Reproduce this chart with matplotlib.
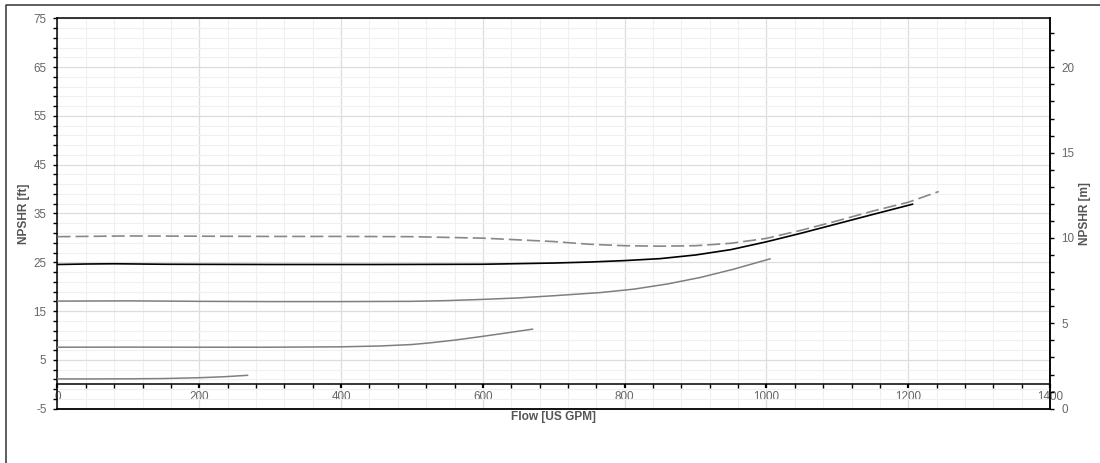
import numpy as np
import matplotlib
matplotlib.use("Agg")
import matplotlib.pyplot as plt
from matplotlib.ticker import MultipleLocator, FixedLocator
from matplotlib.lines import Line2D

plt.rcParams["font.family"] = ["Liberation Sans", "DejaVu Sans"]
plt.rcParams["lines.scale_dashes"] = False
plt.rcParams["axes.unicode_minus"] = False

# NPSHR curves, flow in US GPM, NPSHR in ft
flow_dash = [0, 100, 200, 300, 400, 500, 600, 650, 700, 750, 800, 850, 900, 950, 1000, 1050, 1100, 1150, 1200, 1243]
npsh_dash = [30.25, 30.4, 30.35, 30.3, 30.3, 30.25, 29.95, 29.6, 29.25, 28.7, 28.4, 28.3, 28.4, 28.9, 29.9, 31.6, 33.5, 35.5, 37.3, 39.5]

flow_main = [0, 40, 80, 150, 300, 450, 600, 700, 750, 800, 850, 900, 950, 1000, 1050, 1100, 1150, 1206]
npsh_main = [24.55, 24.65, 24.7, 24.6, 24.55, 24.55, 24.6, 24.85, 25.05, 25.35, 25.75, 26.5, 27.6, 29.2, 31.0, 32.9, 34.8, 36.9]

flow_c3 = [0, 100, 200, 300, 400, 500, 550, 600, 650, 700, 766, 813, 860, 907, 954, 1005]
npsh_c3 = [17.05, 17.1, 17.0, 16.95, 16.95, 17.0, 17.15, 17.4, 17.7, 18.15, 18.8, 19.5, 20.55, 21.9, 23.6, 25.7]

flow_c4 = [0, 100, 200, 300, 400, 455, 500, 526, 560, 596, 630, 670]
npsh_c4 = [7.6, 7.62, 7.6, 7.6, 7.68, 7.85, 8.15, 8.5, 9.05, 9.75, 10.45, 11.3]

flow_c5 = [0, 50, 100, 150, 200, 235, 268]
npsh_c5 = [1.1, 1.1, 1.12, 1.18, 1.35, 1.55, 1.84]

ft_ticks = [75, 65, 55, 45, 35, 25, 15, 5, -5]
m_ticks = [0, 5, 10, 15, 20]
flow_ticks = [0, 200, 400, 600, 800, 1000, 1200, 1400]

W, H = 1100, 463
fig = plt.figure(figsize=(W / 100, H / 100), dpi=100)
ax = fig.add_axes([57.5 / W, (H - 408.7) / H, 992.5 / W, 390.4 / H])

tick_col = "#666666"
lab_col = "#555555"
fs = 8.4

# grid
ax.set_xlim(0, 1400)
ax.set_ylim(-5, 75)
ax.xaxis.set_major_locator(FixedLocator(flow_ticks))
ax.xaxis.set_minor_locator(MultipleLocator(40))
ax.yaxis.set_major_locator(FixedLocator(ft_ticks))
ax.yaxis.set_minor_locator(FixedLocator(np.arange(-5, 76, 2)))
ax.grid(which="major", color="#dddddd", lw=0.9)
ax.grid(which="minor", color="#f0f0f0", lw=0.8)
ax.set_axisbelow(True)

# curves
ax.plot(flow_dash, npsh_dash, color="#888888", lw=1.2, dashes=(9.4, 3.6), zorder=3)
ax.plot(flow_main, npsh_main, color="black", lw=1.2, zorder=4)
ax.plot(flow_c3, npsh_c3, color="#7f7f7f", lw=1.1, zorder=3)
ax.plot(flow_c4, npsh_c4, color="#7f7f7f", lw=1.1, zorder=3)
ax.plot(flow_c5, npsh_c5, color="#7f7f7f", lw=1.1, zorder=3)

# spines
for s in ["left", "top", "right"]:
    ax.spines[s].set_color("black")
    ax.spines[s].set_linewidth(1.1)
ax.spines["bottom"].set_position(("data", 0))
ax.spines["bottom"].set_color("black")
ax.spines["bottom"].set_linewidth(1.1)
ax.axhline(-5, color="black", lw=1.3, clip_on=False, zorder=5)

ax.tick_params(axis="x", which="both", direction="out", length=3, width=1.0,
               colors="black", labelcolor=tick_col, labelsize=fs, pad=2)
ax.tick_params(axis="x", which="major", width=1.6)
ax.tick_params(axis="y", which="both", direction="out", length=3, width=1.0,
               colors="black", labelcolor=tick_col, labelsize=fs, pad=5)

ax.set_xlabel("Flow [US GPM]", fontsize=8.6, fontweight="bold", color=lab_col, va="center")
ax.xaxis.set_label_coords(0.5, -0.021)
ax.set_ylabel("NPSHR [ft]", fontsize=8.6, fontweight="bold", color=lab_col, va="center")
ax.yaxis.set_label_coords(-0.034, 0.5)

# right axis in metres
ax2 = ax.twinx()
ax2.set_ylim(0, 22.87)
ax2.yaxis.set_major_locator(FixedLocator(m_ticks))
ax2.yaxis.set_minor_locator(MultipleLocator(1))
for s in ["left", "top", "bottom"]:
    ax2.spines[s].set_visible(False)
ax2.spines["right"].set_color("black")
ax2.spines["right"].set_linewidth(1.1)
ax2.tick_params(axis="y", which="both", direction="out", length=3, width=1.0,
                colors="black", labelcolor=tick_col, labelsize=fs, pad=5)
ax2.set_ylabel("NPSHR [m]", fontsize=8.6, fontweight="bold", color=lab_col, va="center")
ax2.yaxis.set_label_coords(1.0355, 0.5)

# outer frame (left and top edges)
fx = 5.5 / W
fy = 1 - 4.5 / H
fig.add_artist(Line2D([fx, fx, 1.0], [0.0, fy, fy], transform=fig.transFigure,
                      color="#333333", lw=1.1))

fig.savefig("out.png", dpi=100)
